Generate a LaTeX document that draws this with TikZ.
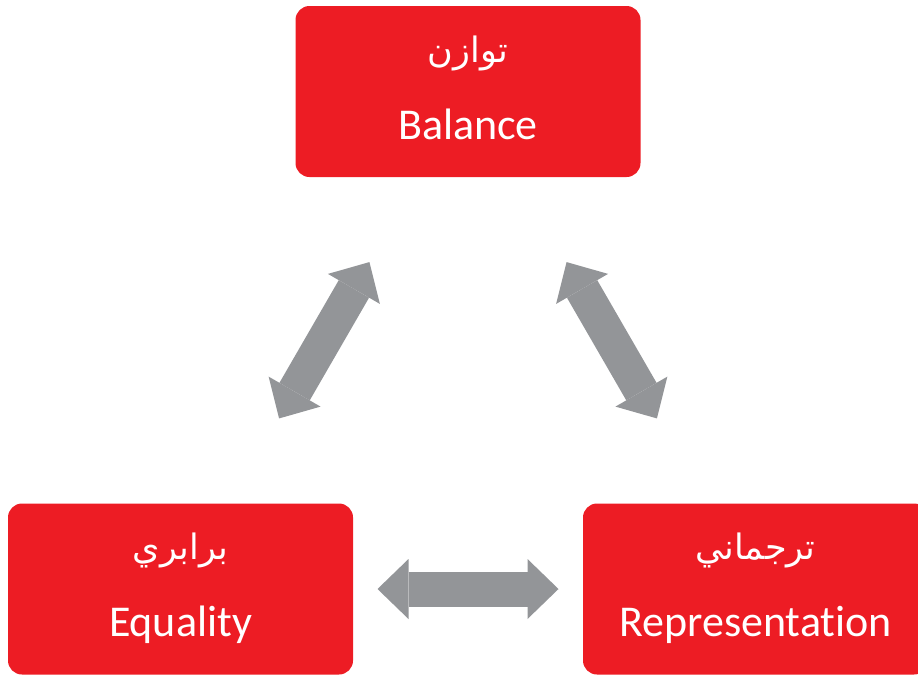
\documentclass[tikz,border=0pt]{standalone}
\usepackage{fontspec}
\setmainfont{Carlito}[Ligatures=NoCommon]
\newfontfamily\farsi[Script=Arabic]{DejaVu Sans}
\TeXXeTstate=1
\usepackage{tikz}
\usetikzlibrary{arrows.meta}
\definecolor{boxred}{HTML}{ED1C24}
\definecolor{arrowgray}{HTML}{939598}
\tikzstyle{box}=[fill=boxred, rounded corners=14pt, minimum width=345pt, minimum height=171pt,
  text=white, align=center, inner sep=0pt, font=\fontsize{44}{77}\selectfont]
\tikzstyle{twoway}=[arrowgray, line width=35pt, shorten <=197pt, shorten >=197pt,
  {Triangle[length=31pt,width=60pt,line width=0pt]}-{Triangle[length=31pt,width=60pt,line width=0pt]}]
\newcommand{\fa}[1]{{\farsi\fontsize{35}{40}\selectfont\rule{0pt}{30pt}\beginR #1\endR}}
\newcommand{\en}[1]{#1\rule[-12pt]{0pt}{12pt}}

\begin{document}
\begin{tikzpicture}[x=1pt, y=-1pt]
      \useasboundingbox (0, 0) rectangle (918, 675);
      \node[box] at (468, 91.5) (B) {\fa{توازن}\\\en{Balance}};
      \node[box] at (180.5, 589) (EQ) {\fa{برابري}\\\en{Equality}};
      \node[box] at (755.5, 589) (RE) {\fa{ترجماني}\\\en{Representation}};
      \draw[twoway] (EQ.center) -- (B.center);
      \draw[twoway] (RE.center) -- (B.center);
      \draw[twoway] (EQ.center) -- (RE.center);
    \end{tikzpicture}
\end{document}
